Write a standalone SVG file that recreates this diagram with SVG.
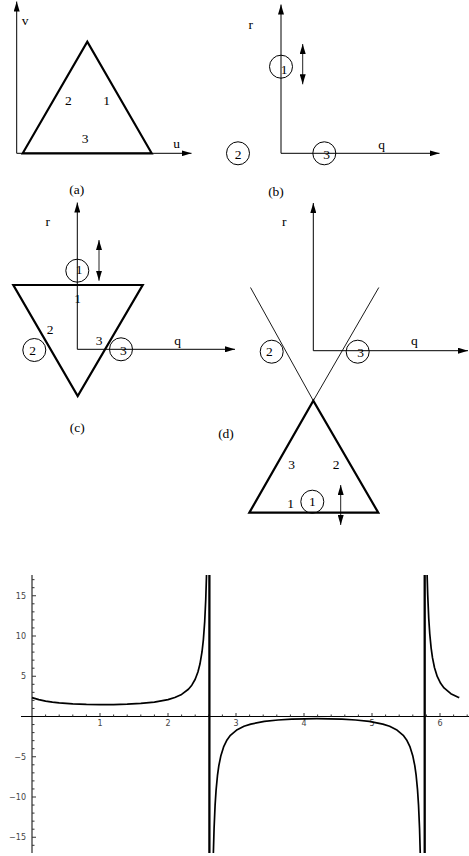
<svg xmlns="http://www.w3.org/2000/svg" width="469" height="856" viewBox="0 0 469 856">
<style>
.ax{stroke:#000;stroke-width:1;fill:none}
.tri{stroke:#000;stroke-width:2.2;fill:none;stroke-linejoin:miter}
.thin{stroke:#000;stroke-width:0.9;fill:none}
.cir{stroke:#000;stroke-width:1;fill:none}
.dbl{stroke:#222;stroke-width:1;fill:none}
.t{font-family:"Liberation Serif","Times New Roman",serif;font-size:13.5px;fill:#000;text-anchor:middle}
.pl{font-family:"DejaVu Sans",sans-serif;font-size:8px;fill:#444}
.curve{stroke:#000;stroke-width:1.7;fill:none;stroke-linejoin:round}
.jump{stroke:#000;stroke-width:2.3}
.tick{stroke:#333;stroke-width:1;fill:none}
</style>
<defs>
<marker id="ah" viewBox="0 0 10 6" refX="10" refY="3" markerWidth="10" markerHeight="6" orient="auto-start-reverse" markerUnits="userSpaceOnUse">
<path d="M0,0 L10,3 L0,6 z" fill="#000"/>
</marker>
</defs>

<g id="connectors">
<path class="ax" d="M16.7,153.3 V1.5" marker-end="url(#ah)"/>
<path class="ax" d="M16.7,153.3 H191.5" marker-end="url(#ah)"/>
<path class="ax" d="M281,153.3 V4.5" marker-end="url(#ah)"/>
<path class="ax" d="M281,153.3 H439.5" marker-end="url(#ah)"/>
<path class="dbl" d="M302.7,44 V84.3" marker-start="url(#ah)" marker-end="url(#ah)"/>
<path class="ax" d="M77.3,349.3 V202.5" marker-end="url(#ah)"/>
<path class="ax" d="M77.3,349.3 H235" marker-end="url(#ah)"/>
<path class="dbl" d="M99,240 V280.7" marker-start="url(#ah)" marker-end="url(#ah)"/>
<path class="ax" d="M313.3,350.7 V203" marker-end="url(#ah)"/>
<path class="ax" d="M313.3,350.7 H468" marker-end="url(#ah)"/>
<path class="dbl" d="M340.7,485 V525" marker-start="url(#ah)" marker-end="url(#ah)"/>
<path class="thin" d="M250.5,287.5 L313.3,400.7 L378.8,287.5"/>
</g>

<g id="panel-a">
<path class="tri" d="M22.7,153.3 L151.7,153.3 L87.3,41.7 Z"/>
<text class="t" x="25" y="24.7">v</text>
<text class="t" x="176.7" y="148">u</text>
<text class="t" x="68.3" y="104.6">2</text>
<text class="t" x="106.7" y="104.6">1</text>
<text class="t" x="85" y="142.9">3</text>
<text class="t" x="76.7" y="194.1">(a)</text>
</g>

<g id="panel-b">
<circle class="cir" cx="281" cy="66.7" r="11.5"/>
<text class="t" x="284" y="73.9">1</text>
<circle class="cir" cx="238" cy="153.3" r="11.5"/>
<text class="t" x="238" y="158.6">2</text>
<circle class="cir" cx="324.3" cy="153.3" r="11.5"/>
<text class="t" x="326.7" y="158.9">3</text>
<text class="t" x="250.7" y="29">r</text>
<text class="t" x="381.7" y="148.8">q</text>
<text class="t" x="276" y="195.7">(b)</text>
</g>

<g id="panel-c">
<path class="tri" d="M13.3,285 L142.7,285 L77.7,396 Z"/>
<circle class="cir" cx="77.3" cy="270.7" r="11.5"/>
<text class="t" x="79" y="273.9">1</text>
<text class="t" x="77.7" y="302.9">1</text>
<text class="t" x="50" y="333.9">2</text>
<circle class="cir" cx="34.3" cy="350" r="11.5"/>
<text class="t" x="32.7" y="355.3">2</text>
<text class="t" x="99" y="345.3">3</text>
<circle class="cir" cx="121" cy="349.3" r="11.5"/>
<text class="t" x="123.3" y="355.3">3</text>
<text class="t" x="47.7" y="225.7">r</text>
<text class="t" x="177.7" y="344.5">q</text>
<text class="t" x="77.3" y="431.7">(c)</text>
</g>

<g id="panel-d">
<path class="tri" d="M249.3,512.7 L378.3,512.7 L313.3,400.7 Z"/>
<circle class="cir" cx="271.7" cy="351.7" r="11.5"/>
<text class="t" x="269.3" y="356.3">2</text>
<circle class="cir" cx="357.7" cy="351.7" r="11.5"/>
<text class="t" x="360.7" y="356.6">3</text>
<text class="t" x="291.7" y="468.6">3</text>
<text class="t" x="336" y="468.6">2</text>
<text class="t" x="290.7" y="507.9">1</text>
<circle class="cir" cx="312.3" cy="501.7" r="11.5"/>
<text class="t" x="312.3" y="506.3">1</text>
<text class="t" x="284.3" y="226.3">r</text>
<text class="t" x="414.3" y="344.5">q</text>
<text class="t" x="226" y="438.4">(d)</text>
</g>

<g id="plot">
<path class="ax" d="M21,716.5 H469"/>
<path class="ax" d="M32,575 V853"/>
<path class="tick" d="M32,579.65h2.5M32,587.7h2.5M32,595.75h4M32,603.8h2.5M32,611.85h2.5M32,619.9h2.5M32,627.95h2.5M32,636h4M32,644.05h2.5M32,652.1h2.5M32,660.15h2.5M32,668.2h2.5M32,676.25h4M32,684.3h2.5M32,692.35h2.5M32,700.4h2.5M32,708.45h2.5M32,724.55h2.5M32,732.6h2.5M32,740.65h2.5M32,748.7h2.5M32,756.75h4M32,764.8h2.5M32,772.85h2.5M32,780.9h2.5M32,788.95h2.5M32,797h4M32,805.05h2.5M32,813.1h2.5M32,821.15h2.5M32,829.2h2.5M32,837.25h4M32,845.3h2.5"/>
<path class="tick" d="M45.6,716.5v-2M59.2,716.5v-2M72.8,716.5v-2M86.4,716.5v-2M100,716.5v-3.5M113.6,716.5v-2M127.2,716.5v-2M140.8,716.5v-2M154.4,716.5v-2M168,716.5v-3.5M181.6,716.5v-2M195.2,716.5v-2M208.8,716.5v-2M222.4,716.5v-2M236,716.5v-3.5M249.6,716.5v-2M263.2,716.5v-2M276.8,716.5v-2M290.4,716.5v-2M304,716.5v-3.5M317.6,716.5v-2M331.2,716.5v-2M344.8,716.5v-2M358.4,716.5v-2M372,716.5v-3.5M385.6,716.5v-2M399.2,716.5v-2M412.8,716.5v-2M426.4,716.5v-2M440,716.5v-3.5M453.6,716.5v-2M467.2,716.5v-2"/>
<text class="pl" x="26" y="598.7" text-anchor="end">15</text>
<text class="pl" x="26" y="638.9" text-anchor="end">10</text>
<text class="pl" x="26" y="679.2" text-anchor="end">5</text>
<text class="pl" x="26" y="759.7" text-anchor="end">−5</text>
<text class="pl" x="26" y="799.9" text-anchor="end">−10</text>
<text class="pl" x="26" y="840.2" text-anchor="end">−15</text>
<text class="pl" x="100" y="726.2" text-anchor="middle">1</text>
<text class="pl" x="168" y="726.2" text-anchor="middle">2</text>
<text class="pl" x="236" y="726.2" text-anchor="middle">3</text>
<text class="pl" x="304" y="726.2" text-anchor="middle">4</text>
<text class="pl" x="372" y="726.2" text-anchor="middle">5</text>
<text class="pl" x="440" y="726.2" text-anchor="middle">6</text>
<path class="curve" d="M32,697.67 L38.8,699.68 L45.6,701.1 L52.4,702.13 L59.2,702.9 L72.8,703.91 L86.4,704.45 L100,704.66 L113.6,704.58 L127.2,704.21 L140.8,703.44 L154.4,702.07 L168,699.58 L174.8,697.52 L181.6,694.4 L188.4,689.24 L191.8,685.18 L195.2,679.23 L197.92,672.03 L199.96,664.05 L202,651.98 L203.36,639.79 L204.72,621.33 L205.74,599.72 L206.52,575"/>
<path class="curve" d="M213.37,853 L214.08,828.48 L215.1,805.14 L216.12,789.59 L217.48,775.47 L218.84,765.69 L220.88,755.63 L223.6,746.92 L227,739.98 L230.4,735.37 L237.2,729.65 L244,726.28 L250.8,724.07 L264.4,721.43 L278,719.99 L291.6,719.18 L305.2,718.78 L316.81,718.67 L328.43,718.78 L342.03,719.18 L355.63,719.99 L369.23,721.43 L382.83,724.07 L389.63,726.28 L396.43,729.65 L403.23,735.37 L406.63,739.98 L410.03,746.92 L412.75,755.63 L414.79,765.69 L416.15,775.47 L417.51,789.59 L418.53,805.14 L419.55,828.48 L420.25,853"/>
<path class="curve" d="M427.11,575 L427.71,594.87 L428.73,618.2 L429.75,633.75 L431.11,647.87 L432.47,657.65 L434.51,667.71 L437.23,676.42 L440.63,683.36 L444.03,687.97 L450.83,693.69 L457.63,697.06 L459.26,697.67"/>
<line class="jump" x1="209.4" y1="575" x2="209.4" y2="853"/>
<line class="jump" x1="424.7" y1="575" x2="424.7" y2="853"/>
</g>
</svg>
